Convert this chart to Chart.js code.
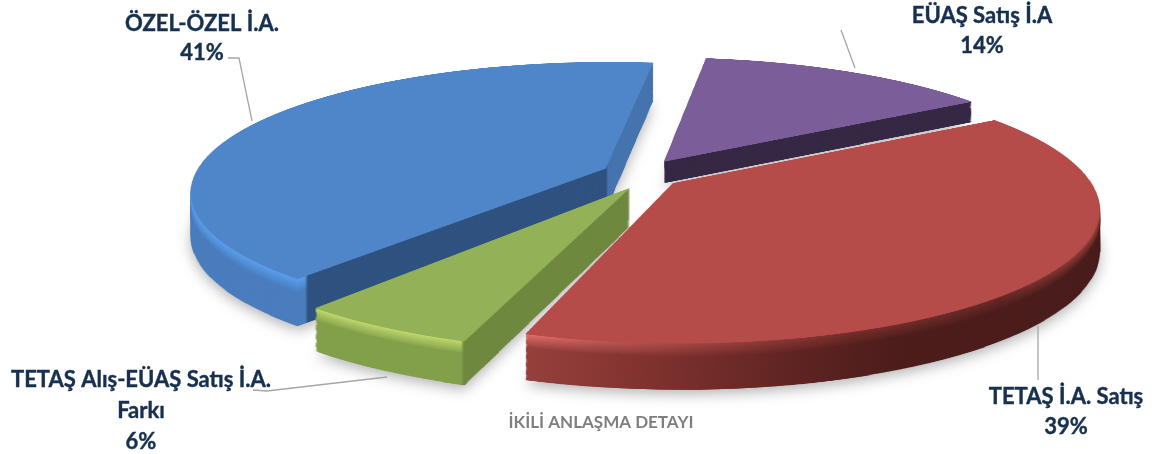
<!DOCTYPE html>
<html>
<head>
<meta charset="utf-8">
<script src="https://cdn.jsdelivr.net/npm/chart.js@4"></script>
<style>
  html, body { margin: 0; padding: 0; background: #fff; overflow: hidden; }
  canvas { display: block; }
</style>
</head>
<body>
<canvas id="pieChart" width="1156" height="454"></canvas>
<script>
const categories = ['EÜAŞ Satış İ.A', 'TETAŞ İ.A. Satış', 'TETAŞ Alış-EÜAŞ Satış İ.A. Farkı', 'ÖZEL-ÖZEL İ.A.'];
const shares = [14, 39, 6, 41];
const chartTitle = 'İKİLİ ANLAŞMA DETAYI';

const topColors = ['#7b5e99', '#b54c4a', '#93b156', '#4f86c9'];
const explode = [96, 86, 57, 57];      // pulled out slices, in flat chart pixels
const nudges = [[1, 4], [0.5, 2.5], [5, 10], [0, 0]];   // small corrections to the pull out
const depths = [22, 40, 38, 43];       // height of each slice
const drawOrder = [0, 3, 2, 1];

// side wall colours, stops are [screen x, colour]
const walls = [
    [[660, '#352844'], [990, '#352844']],
    [[525, '#96403c'], [650, '#80322f'], [800, '#5e2422'], [900, '#4c1d1b'], [1092, '#4a1d1c']],
    [[310, '#82a04a'], [461, '#82a04a'], [464, '#6f883f'], [630, '#6f883f']],
    [[190, '#4a7dbd'], [305, '#4a7dbd'], [308, '#2f5280'], [606, '#2f5280'], [608, '#4674ae'], [660, '#4674ae']]
];
const bevels = [
    [[660, '#352844'], [990, '#352844']],
    [[525, '#e87070'], [600, '#c25a58'], [700, '#a0443f'], [850, '#7a2f2c'], [1000, '#6a2a28'], [1092, '#9a403d']],
    [[310, '#c2da70'], [461, '#c2da70'], [464, '#6f883f'], [630, '#6f883f']],
    [[190, '#5aa0ee'], [305, '#5aa0ee'], [308, '#2f5280'], [606, '#2f5280'], [608, '#4674ae'], [660, '#4674ae']]
];

// label text lines and where they sit
const labelLines = [
    { lines: ['EÜAŞ Satış İ.A', '14%'], x: 982, y: [16, 46] },
    { lines: ['TETAŞ İ.A. Satış', '39%'], x: 1066, y: [397, 427] },
    { lines: ['TETAŞ Alış-EÜAŞ Satış İ.A.', 'Farkı', '6%'], x: 141, y: [380, 411, 442] },
    { lines: ['ÖZEL-ÖZEL İ.A.', '41%'], x: 202, y: [24, 53] }
];
const leaders = [
    [[841, 30], [855, 68]],
    [[1038, 326], [1038, 380]],
    [[253, 390], [267, 391], [387, 377]],
    [[228, 58], [239, 58], [252, 121]]
];

// tilt of the pie plane: x and y radius, centre and how strong the perspective is
const tilt = { cx: 634, cy: 172, a: 395, b: 122, k: -0.17 };
const flatZoom = 2;

function makeCanvas(w, h) {
    const c = document.createElement('canvas');
    c.width = w;
    c.height = h;
    return c;
}

// copies a flat (seen from above) slice row by row through the tilt
function warpSlice(flat, radius, dst, lift) {
    const r = radius * flatZoom;
    for (let ys = 0; ys < 454; ys++) {
        const dy = ys - tilt.cy;
        const y = dy / (tilt.b - tilt.k * dy);
        if (y < -1.4 || y > 1.4) continue;
        const w = 1 + tilt.k * y;
        const srcH = tilt.b / Math.pow(tilt.b - tilt.k * dy, 2) * r;
        const dstW = flat.width * tilt.a / w / r;
        dst.drawImage(flat, 0, flat.height / 2 + y * r, flat.width, srcH,
            tilt.cx - dstW / 2, ys + lift * Math.pow(1 / w, 0.7), dstW, 1.6);
    }
}

function xGradient(ctx, stops) {
    const x0 = stops[0][0];
    const x1 = stops[stops.length - 1][0];
    const g = ctx.createLinearGradient(x0, 0, x1, 0);
    stops.forEach(s => g.addColorStop((s[0] - x0) / (x1 - x0), s[1]));
    return g;
}

const tiltedPie = {
    id: 'tiltedPie',
    beforeDatasetDraw(chart) {
        const ctx = chart.ctx;
        const arcs = chart.getDatasetMeta(0).data;
        const layer = makeCanvas(1156, 454);
        const lctx = layer.getContext('2d');

        drawOrder.forEach(i => {
            const el = arcs[i];
            const flat = makeCanvas(1100, 1100);
            const fctx = flat.getContext('2d');
            fctx.setTransform(flatZoom, 0, 0, flatZoom,
                550 + flatZoom * (nudges[i][0] - el.x), 550 + flatZoom * (nudges[i][1] - el.y));
            el.draw(fctx);

            const wall = xGradient(lctx, walls[i]);
            const bevel = xGradient(lctx, bevels[i]);
            for (let d = depths[i]; d > 0; d -= 1) {
                lctx.globalCompositeOperation = 'source-over';
                lctx.globalAlpha = 1;
                lctx.clearRect(0, 0, 1156, 454);
                warpSlice(flat, el.outerRadius, lctx, d);
                lctx.globalCompositeOperation = 'source-in';
                lctx.fillStyle = wall;
                lctx.fillRect(0, 0, 1156, 454);
                lctx.globalCompositeOperation = 'source-atop';
                const t = d / depths[i];
                lctx.globalAlpha = t < 0.28 ? 1 - t / 0.28 * 0.9 : 0;
                lctx.fillStyle = bevel;
                lctx.fillRect(0, 0, 1156, 454);

                ctx.save();
                if (d === depths[i]) {
                    ctx.shadowColor = 'rgba(0,0,0,0.3)';
                    ctx.shadowBlur = 14;
                    ctx.shadowOffsetY = 4;
                }
                ctx.drawImage(layer, 0, 0);
                ctx.restore();
            }
            warpSlice(flat, el.outerRadius, ctx, 0);
        });
        return false;
    },
    afterDraw(chart) {
        const ctx = chart.ctx;
        ctx.save();
        ctx.strokeStyle = '#a6a6a6';
        ctx.lineWidth = 1.3;
        leaders.forEach(pts => {
            ctx.beginPath();
            pts.forEach((p, n) => n ? ctx.lineTo(p[0], p[1]) : ctx.moveTo(p[0], p[1]));
            ctx.stroke();
        });
        ctx.textAlign = 'center';
        ctx.textBaseline = 'middle';
        ctx.fillStyle = '#17304f';
        ctx.strokeStyle = '#17304f';
        ctx.lineWidth = 0.4;
        ctx.font = 'bold 22px Lato';
        labelLines.forEach(l => {
            l.lines.forEach((text, n) => {
                ctx.fillText(text, l.x, l.y[n]);
                ctx.strokeText(text, l.x, l.y[n]);
            });
        });
        ctx.fillStyle = '#7f7f7f';
        ctx.font = 'bold 17px Lato';
        ctx.fillText(chartTitle, 601, 423);
        ctx.restore();
    }
};

new Chart(document.getElementById('pieChart'), {
    type: 'pie',
    data: {
        labels: categories,
        datasets: [{
            data: shares,
            backgroundColor: topColors,
            borderWidth: 0,
            offset: explode
        }]
    },
    options: {
        responsive: false,
        animation: false,
        rotation: 7.5,
        plugins: {
            legend: { display: false },
            tooltip: { enabled: false }
        }
    },
    plugins: [tiltedPie]
});
</script>
</body>
</html>
